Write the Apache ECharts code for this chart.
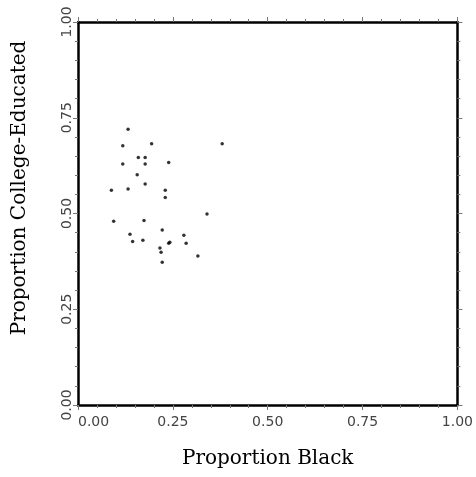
<!DOCTYPE html>
<html>
<head>
<meta charset="utf-8">
<script src="https://cdn.jsdelivr.net/npm/echarts@6/dist/echarts.min.js"></script>
<style>
  html, body { margin: 0; padding: 0; background: #fff; }
  #chart { width: 476px; height: 477px; }
</style>
</head>
<body>
<div id="chart"></div>
<script>
// proportion black (x) and proportion college-educated (y), one entry per point
var propBlack = [0.132, 0.118, 0.194, 0.380, 0.159, 0.177, 0.118, 0.177, 0.239, 0.156,
                 0.177, 0.088, 0.132, 0.230, 0.230, 0.340, 0.094, 0.174, 0.222, 0.137,
                 0.279, 0.144, 0.171, 0.239, 0.242, 0.285, 0.216, 0.219, 0.316, 0.222];
var propCollege = [0.720, 0.677, 0.682, 0.682, 0.646, 0.646, 0.629, 0.629, 0.633, 0.601,
                   0.577, 0.561, 0.564, 0.561, 0.542, 0.499, 0.480, 0.482, 0.457, 0.446,
                   0.443, 0.427, 0.430, 0.422, 0.425, 0.422, 0.410, 0.399, 0.389, 0.373];
var tickLabels = ['0.00', '0.25', '0.50', '0.75', '1.00'];

var points = propBlack.map(function (x, i) { return [x, propCollege[i]]; });

var chart = echarts.init(document.getElementById('chart'));

var labelFmt = function (v) { return tickLabels[Math.round(v * 4)]; };
var lineStyle = { color: '#000', width: 2.5 };
var tickStyle = { show: true, inside: false, length: 5, lineStyle: { color: '#777', width: 1 } };
var minorStyle = { show: true, splitNumber: 5, length: 3, lineStyle: { color: '#777', width: 1 } };

function makeAxis(pos, showLabel, extra) {
  var ax = {
    type: 'value',
    position: pos,
    min: 0,
    max: 1,
    interval: 0.25,
    axisLine: { show: true, onZero: false, lineStyle: lineStyle },
    axisTick: tickStyle,
    minorTick: minorStyle,
    splitLine: { show: false },
    axisLabel: { show: showLabel, formatter: labelFmt, color: '#444', fontFamily: 'DejaVu Sans', fontSize: 14 }
  };
  return Object.assign(ax, extra || {});
}

chart.setOption({
  animation: false,
  backgroundColor: '#fff',
  grid: { left: 78, right: 18, top: 22, bottom: 72 },
  xAxis: [
    makeAxis('bottom', true, {
      name: 'Proportion Black',
      nameLocation: 'middle',
      nameGap: 44,
      nameTextStyle: { fontFamily: 'DejaVu Serif', fontSize: 20, color: '#000' }
    }),
    makeAxis('top', false)
  ],
  yAxis: [
    makeAxis('left', true),
    makeAxis('right', false)
  ],
  graphic: [{
    type: 'text',
    x: 20,
    y: 188,
    rotation: Math.PI / 2,
    style: {
      text: 'Proportion College-Educated',
      fontFamily: 'DejaVu Serif',
      fontSize: 20,
      fill: '#000',
      align: 'center',
      verticalAlign: 'middle'
    }
  }],
  series: [{
    type: 'scatter',
    data: points,
    symbol: 'circle',
    symbolSize: 3.5,
    itemStyle: { color: '#000' }
  }]
});
chart.setOption({
  xAxis: [{ axisLabel: { margin: 10, alignMinLabel: 'left' } }, {}],
  yAxis: [{ axisLabel: { rotate: 90, margin: 4 } }, {}]
});
</script>
</body>
</html>
